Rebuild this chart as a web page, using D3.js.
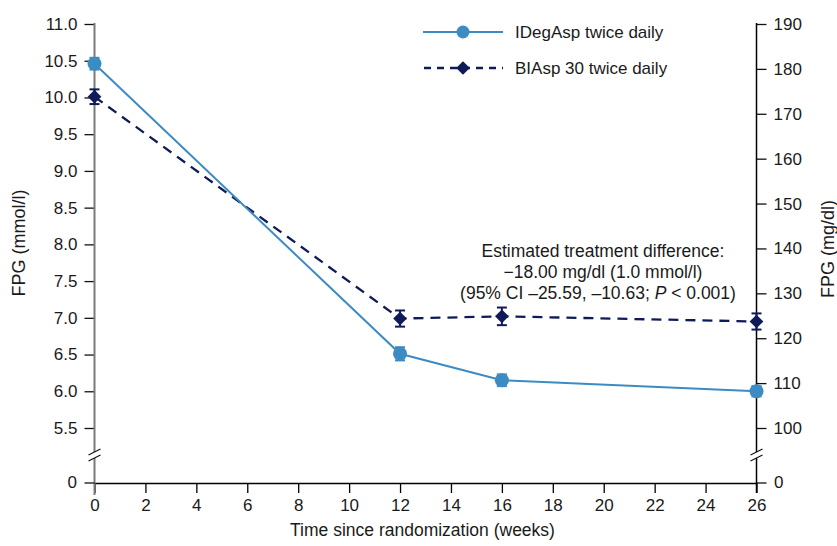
<!DOCTYPE html>
<html>
<head>
<meta charset="utf-8">
<script src="https://cdn.jsdelivr.net/npm/d3@7"></script>
<style>
  body { margin: 0; background: #fff; }
  svg text { font-family: "Liberation Sans", Arial, sans-serif; fill: #1a1a1a; }
</style>
</head>
<body>
<div id="chart"></div>
<script>
// data (FPG in mmol/l)
var weeks = [0, 12, 16, 26];
var idegAsp = [10.46, 6.51, 6.15, 6.0];
var idegAspErr = [0.08, 0.09, 0.08, 0.07];
var biAsp = [10.01, 6.99, 7.02, 6.95];
var biAspErr = [0.1, 0.11, 0.12, 0.11];

var xTicks = [0, 2, 4, 6, 8, 10, 12, 14, 16, 18, 20, 22, 24, 26];
var leftTicks = [5.5, 6.0, 6.5, 7.0, 7.5, 8.0, 8.5, 9.0, 9.5, 10.0, 10.5, 11.0];
var rightTicks = [100, 110, 120, 130, 140, 150, 160, 170, 180, 190];

var seriesNames = ["IDegAsp twice daily", "BIAsp 30 twice daily"];
var noteLines = ["Estimated treatment difference:", "\u221218.00 mg/dl (1.0 mmol/l)"];

var width = 837, height = 546;
var zeroY = 483; // y of the broken-off zero line

var x = d3.scaleLinear().domain([0, 26]).range([94.5, 756.5]);
var yL = d3.scaleLinear().domain([5.5, 11]).range([428, 24]);
var yR = d3.scaleLinear().domain([100, 190]).range([428, 24]);

var blue = "#3d8bc3", navy = "#0f1b58";
var fs = "17px";

var svg = d3.select("#chart").append("svg")
    .attr("width", width)
    .attr("height", height);

// x axis at the zero line
var xAxis = svg.append("g")
    .attr("transform", "translate(0," + zeroY + ")")
    .call(d3.axisBottom(x).tickValues(xTicks).tickSize(10).tickPadding(6).tickSizeOuter(0));
xAxis.select(".domain").attr("stroke", "#000").attr("stroke-width", 1.3);
xAxis.selectAll(".tick line").attr("stroke", "#000").attr("stroke-width", 1.3);
xAxis.selectAll("text").style("font-size", fs).attr("fill", "#1a1a1a");

// left axis (grey line)
var left = svg.append("g").attr("transform", "translate(94.5,0)")
    .call(d3.axisLeft(yL).tickValues(leftTicks).tickFormat(d3.format(".1f")).tickSize(10).tickPadding(7).tickSizeOuter(0));
left.select(".domain").remove();
left.selectAll(".tick line").attr("stroke", "#111").attr("stroke-width", 1.3);
left.selectAll("text").style("font-size", fs).attr("fill", "#1a1a1a");

svg.append("line")
    .attr("x1", 94.5).attr("x2", 94.5).attr("y1", 23).attr("y2", 495)
    .attr("stroke", "#7a7a7a").attr("stroke-width", 2);
svg.append("line")
    .attr("x1", 84.5).attr("x2", 94.5).attr("y1", zeroY).attr("y2", zeroY)
    .attr("stroke", "#111").attr("stroke-width", 1.3);
svg.append("text").attr("x", 77).attr("y", zeroY).attr("dy", "0.32em")
    .attr("text-anchor", "end").style("font-size", fs).text("0");

// right axis (black line)
var right = svg.append("g").attr("transform", "translate(756.5,0)")
    .call(d3.axisRight(yR).tickValues(rightTicks).tickSize(10).tickPadding(7).tickSizeOuter(0));
right.select(".domain").remove();
right.selectAll(".tick line").attr("stroke", "#111").attr("stroke-width", 1.3);
right.selectAll("text").style("font-size", fs).attr("fill", "#1a1a1a");

svg.append("line")
    .attr("x1", 756.5).attr("x2", 756.5).attr("y1", 23).attr("y2", 493)
    .attr("stroke", "#000").attr("stroke-width", 1.5);
svg.append("line")
    .attr("x1", 756.5).attr("x2", 766.5).attr("y1", zeroY).attr("y2", zeroY)
    .attr("stroke", "#111").attr("stroke-width", 1.3);
svg.append("text").attr("x", 774).attr("y", zeroY).attr("dy", "0.32em")
    .style("font-size", fs).text("0");

// axis breaks
[94.5, 756.5].forEach(function(bx) {
    svg.append("rect").attr("x", bx - 3).attr("y", 452).attr("width", 6).attr("height", 6).attr("fill", "#fff");
    [-3, 3].forEach(function(off) {
        svg.append("line")
            .attr("x1", bx - 6).attr("x2", bx + 6)
            .attr("y1", 455 + off + 3).attr("y2", 455 + off - 3)
            .attr("stroke", "#111").attr("stroke-width", 1.2);
    });
});

// axis titles
svg.append("text")
    .attr("transform", "translate(25,243) rotate(-90)")
    .attr("text-anchor", "middle").style("font-size", "18px")
    .text("FPG (mmol/l)");
svg.append("text")
    .attr("transform", "translate(834,249) rotate(-90)")
    .attr("text-anchor", "middle").style("font-size", "18px")
    .text("FPG (mg/dl)");
svg.append("text")
    .attr("x", (x(0) + x(26)) / 2 - 3).attr("y", 536)
    .attr("text-anchor", "middle").style("font-size", "17.5px")
    .text("Time since randomization (weeks)");

// lines
var lineL = d3.line().x(function(d, i) { return x(weeks[i]); }).y(function(d) { return yL(d); });

svg.append("path").datum(biAsp)
    .attr("d", lineL).attr("fill", "none")
    .attr("stroke", navy).attr("stroke-width", 2.3).attr("stroke-dasharray", "10,7");
svg.append("path").datum(idegAsp)
    .attr("d", lineL).attr("fill", "none")
    .attr("stroke", blue).attr("stroke-width", 2);

// error bars
function errBars(vals, errs, color) {
    var g = svg.append("g").attr("stroke", color).attr("stroke-width", 2);
    vals.forEach(function(v, i) {
        var cx = x(weeks[i]), y1 = yL(v + errs[i]), y2 = yL(v - errs[i]);
        g.append("line").attr("x1", cx).attr("x2", cx).attr("y1", y1).attr("y2", y2);
        g.append("line").attr("x1", cx - 5).attr("x2", cx + 5).attr("y1", y1).attr("y2", y1);
        g.append("line").attr("x1", cx - 5).attr("x2", cx + 5).attr("y1", y2).attr("y2", y2);
    });
}
errBars(biAsp, biAspErr, navy);
errBars(idegAsp, idegAspErr, blue);

var diamond = d3.symbol().type(d3.symbolDiamond2).size(120);

svg.selectAll(".bi").data(biAsp).enter().append("path")
    .attr("class", "bi")
    .attr("transform", function(d, i) { return "translate(" + x(weeks[i]) + "," + yL(d) + ")"; })
    .attr("d", diamond).attr("fill", navy);

svg.selectAll(".ideg").data(idegAsp).enter().append("circle")
    .attr("class", "ideg")
    .attr("cx", function(d, i) { return x(weeks[i]); })
    .attr("cy", function(d) { return yL(d); })
    .attr("r", 7).attr("fill", blue);

// legend
var lg = svg.append("g");
lg.append("line").attr("x1", 423).attr("x2", 503).attr("y1", 32).attr("y2", 32)
    .attr("stroke", blue).attr("stroke-width", 2);
lg.append("circle").attr("cx", 463).attr("cy", 32).attr("r", 6.5).attr("fill", blue);
lg.append("text").attr("x", 515).attr("y", 32).attr("dy", "0.35em")
    .style("font-size", fs).text(seriesNames[0]);

lg.append("line").attr("x1", 424).attr("x2", 503).attr("y1", 68).attr("y2", 68)
    .attr("stroke", navy).attr("stroke-width", 2.3).attr("stroke-dasharray", "7,6");
lg.append("path").attr("transform", "translate(463,68)")
    .attr("d", diamond).attr("fill", navy);
lg.append("text").attr("x", 515).attr("y", 68).attr("dy", "0.35em")
    .style("font-size", fs).text(seriesNames[1]);

// annotation
var note = svg.append("g").attr("text-anchor", "middle").style("font-size", "17.5px");
noteLines.forEach(function(t, i) {
    note.append("text").attr("x", 603).attr("y", 257 + i * 21).text(t);
});
var last = note.append("text").attr("x", 598).attr("y", 299);
last.append("tspan").text("(95% CI \u201325.59, \u201310.63; ");
last.append("tspan").style("font-style", "italic").text("P");
last.append("tspan").text(" < 0.001)");
</script>
</body>
</html>
